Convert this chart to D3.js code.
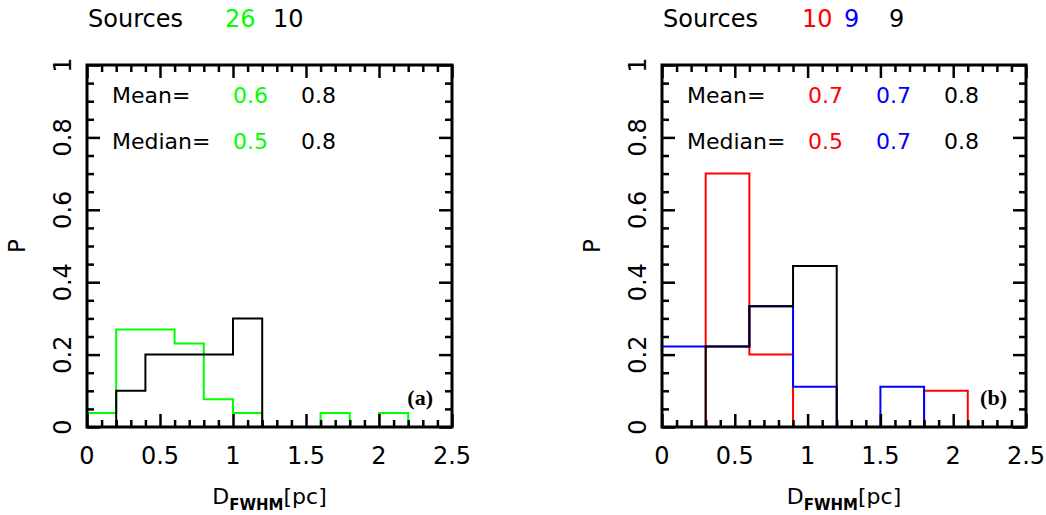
<!DOCTYPE html>
<html>
<head>
<meta charset="utf-8">
<script src="https://cdn.jsdelivr.net/npm/d3@7"></script>
<style>
  body { margin: 0; background: #fff; }
  svg text { font-family: 'DejaVu Sans', sans-serif; }
</style>
</head>
<body>
<div id="chart"></div>
<script>
// ---- data ----
const xTicks = [0, 0.5, 1, 1.5, 2, 2.5];
const yTicks = [0, 0.2, 0.4, 0.6, 0.8, 1];
const xTickLabels = ['0', '0.5', '1', '1.5', '2', '2.5'];
const yTickLabels = ['0', '0.2', '0.4', '0.6', '0.8', '1'];

// panel (a): bins of 0.2 pc
const binWidthA = 0.2;
const sourcesA = [26, 10];
const greenStartA = 0;
const greenCountsA = [1, 7, 7, 6, 2, 1, 0, 0, 1, 0, 1];
const blackStartA = 0.2;
const blackCountsA = [1, 2, 2, 2, 3];
const meanA = ['0.6', '0.8'];
const medianA = ['0.5', '0.8'];

// panel (b): bins of 0.3 pc
const binWidthB = 0.3;
const sourcesB = [10, 9, 9];
const redStartB = 0.3;
const redCountsB = [7, 2, 0, 0, 0, 1];
const blueStartB = 0;
const blueCountsB = [2, 2, 3, 1, 0, 1];
const blackStartB = 0.3;
const blackCountsB = [2, 3, 4];
const meanB = ['0.7', '0.7', '0.8'];
const medianB = ['0.5', '0.7', '0.8'];

const W = 1046, H = 515;
const plotTop = 65, plotBottom = 427;

const svg = d3.select('#chart').append('svg')
  .attr('width', W).attr('height', H);

// turn bin counts into a closed step outline
function outline(start, width, counts, total) {
  const pts = [[start, 0]];
  counts.forEach((c, i) => {
    const p = c / total;
    pts.push([start + i * width, p]);
    pts.push([start + (i + 1) * width, p]);
  });
  pts.push([start + counts.length * width, 0]);
  return pts;
}

function panel(cfg) {
  const g = svg.append('g');
  const x = d3.scaleLinear().domain([0, 2.5]).range([cfg.left, cfg.right]);
  const y = d3.scaleLinear().domain([0, 1]).range([plotBottom, plotTop]);

  const xMinor = d3.range(0, 26).map(i => i / 10).filter(v => !xTicks.includes(v));
  const yMinor = d3.range(0, 21).map(i => i / 20).filter(v => Math.abs(v * 5 - Math.round(v * 5)) > 1e-6);

  // histograms
  const line = d3.line().x(d => x(d[0])).y(d => y(d[1]));
  cfg.series.forEach(s => {
    g.append('path')
      .datum(outline(s.start, cfg.binWidth, s.counts, s.total))
      .attr('d', line)
      .attr('fill', 'none')
      .attr('stroke', s.color)
      .attr('stroke-width', 2);
  });

  // inward ticks on all four sides
  const tickAxes = [
    [d3.axisBottom(x), `translate(0,${plotBottom})`, xTicks, xMinor],
    [d3.axisTop(x), `translate(0,${plotTop})`, xTicks, xMinor],
    [d3.axisLeft(y), `translate(${cfg.left},0)`, yTicks, yMinor],
    [d3.axisRight(y), `translate(${cfg.right},0)`, yTicks, yMinor]
  ];
  tickAxes.forEach(([ax, tr, major, minor]) => {
    [[major, -13], [minor, -7]].forEach(([vals, len]) => {
      g.append('g')
        .attr('transform', tr)
        .call(ax.tickValues(vals).tickSize(len).tickSizeOuter(0).tickFormat(''))
        .call(a => a.select('.domain').remove())
        .call(a => a.selectAll('line').attr('stroke', '#000').attr('stroke-width', 2.5));
    });
  });

  // frame
  g.append('rect')
    .attr('x', cfg.left).attr('y', plotTop)
    .attr('width', cfg.right - cfg.left).attr('height', plotBottom - plotTop)
    .attr('fill', 'none').attr('stroke', '#000').attr('stroke-width', 3);

  // tick labels
  g.selectAll('.xl').data(xTicks).enter().append('text')
    .attr('x', d => x(d)).attr('y', 464)
    .attr('text-anchor', 'middle')
    .style('font-size', '24px')
    .text((d, i) => xTickLabels[i]);

  g.selectAll('.yl').data(yTicks).enter().append('text')
    .attr('transform', d => `translate(${cfg.left - 16},${y(d)}) rotate(-90)`)
    .attr('text-anchor', 'middle')
    .style('font-size', '24px')
    .text((d, i) => yTickLabels[i]);

  // axis titles
  const xt = g.append('text')
    .attr('x', (cfg.left + cfg.right) / 2).attr('y', 504)
    .attr('text-anchor', 'middle')
    .style('font-size', '22px');
  xt.append('tspan').text('D');
  xt.append('tspan').attr('dy', 6).style('font-size', '15px').style('font-weight', 'bold').text('FWHM');
  xt.append('tspan').attr('dy', -6).text('[pc]');

  g.append('text')
    .attr('transform', `translate(${cfg.left - 62},${(plotTop + plotBottom) / 2}) rotate(-90)`)
    .attr('text-anchor', 'middle')
    .style('font-size', '23px')
    .text('P');

  // source counts and statistics
  g.append('text').attr('x', cfg.left + 1).attr('y', 27).style('font-size', '24px').text('Sources');
  cfg.sources.forEach((n, i) => {
    g.append('text').attr('x', cfg.left + cfg.sourceX[i]).attr('y', 27)
      .style('font-size', '24px').attr('fill', cfg.colors[i]).text(n);
  });

  g.append('text').attr('x', cfg.left + 25).attr('y', 103).style('font-size', '22px').text('Mean=');
  g.append('text').attr('x', cfg.left + 25).attr('y', 149).style('font-size', '22px').text('Median=');
  cfg.mean.forEach((v, i) => {
    g.append('text').attr('x', cfg.left + 146 + 68 * i).attr('y', 103)
      .style('font-size', '22px').attr('fill', cfg.colors[i]).text(v);
  });
  cfg.median.forEach((v, i) => {
    g.append('text').attr('x', cfg.left + 146 + 68 * i).attr('y', 149)
      .style('font-size', '22px').attr('fill', cfg.colors[i]).text(v);
  });

  g.append('text')
    .attr('x', cfg.right - 19).attr('y', 405)
    .attr('text-anchor', 'end')
    .style('font-family', "'Liberation Serif', serif")
    .style('font-weight', 'bold')
    .style('font-size', '22px')
    .text(cfg.tag);
}

panel({
  left: 87, right: 452, binWidth: binWidthA, tag: '(a)',
  colors: ['#00ff00', '#000000'],
  sources: sourcesA, sourceX: [138, 186],
  mean: meanA, median: medianA,
  series: [
    { start: greenStartA, counts: greenCountsA, total: sourcesA[0], color: '#00ff00' },
    { start: blackStartA, counts: blackCountsA, total: sourcesA[1], color: '#000000' }
  ]
});

panel({
  left: 662, right: 1026, binWidth: binWidthB, tag: '(b)',
  colors: ['#ff0000', '#0000ff', '#000000'],
  sources: sourcesB, sourceX: [140, 182, 227],
  mean: meanB, median: medianB,
  series: [
    { start: redStartB, counts: redCountsB, total: sourcesB[0], color: '#ff0000' },
    { start: blueStartB, counts: blueCountsB, total: sourcesB[1], color: '#0000ff' },
    { start: blackStartB, counts: blackCountsB, total: sourcesB[2], color: '#000000' }
  ]
});
</script>
</body>
</html>
